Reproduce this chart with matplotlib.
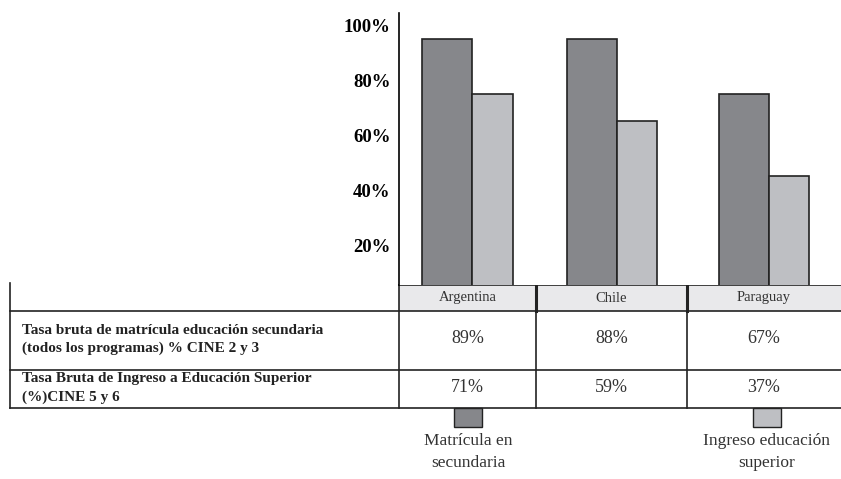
import matplotlib.pyplot as plt
from matplotlib.patches import Rectangle

# data
countries = ['Argentina', 'Chile', 'Paraguay']
bar_secundaria = [95, 95, 75]   # bar heights as drawn on the axis
bar_superior = [75, 65, 45]
tabla_secundaria = ['89%', '88%', '67%']
tabla_superior = ['71%', '59%', '37%']
row_labels = ['Tasa bruta de matrícula educación secundaria\n(todos los programas) % CINE 2 y 3',
              'Tasa Bruta de Ingreso a Educación Superior\n(%)CINE 5 y 6']
legend_labels = ['Matrícula en\nsecundaria', 'Ingreso educación\nsuperior']
yticks = [20, 40, 60, 80, 100]

dark = '#86878b'
light = '#bebfc3'
edge = '#222222'
serif = ['Liberation Serif', 'DejaVu Serif']

W, H = 841, 479
fig = plt.figure(figsize=(W / 100, H / 100), dpi=100)

# layout in pixels
x_left, x_split, x_right = 10, 399, 841
y_axtop, y_head, y_row1, y_row2, y_bot = 13, 285, 311, 370, 408
col_w = [137, 151, 154]
col_edges = [x_split]
for w in col_w:
    col_edges.append(col_edges[-1] + w)
col_centers = [(a + b) / 2 for a, b in zip(col_edges[:-1], col_edges[1:])]

# bar axes
ax = fig.add_axes([x_split / W, (H - y_head) / H, (x_right - x_split) / W, (y_head - y_axtop) / H])
ax.set_xlim(x_split, x_right)
ax.set_ylim(5.5, 104.4)
w_dark, w_light = 50, 40
for c, hd, hl in zip(col_centers, bar_secundaria, bar_superior):
    left = c - (w_dark + w_light) / 2
    ax.bar(left, hd, width=w_dark, align='edge', color=dark, edgecolor=edge, linewidth=1.2)
    ax.bar(left + w_dark, hl, width=w_light, align='edge', color=light, edgecolor=edge, linewidth=1.2)
for s in ['top', 'right', 'bottom']:
    ax.spines[s].set_visible(False)
ax.spines['left'].set_linewidth(1.2)
ax.set_xticks([])
ax.set_yticks(yticks)
ax.set_yticklabels([f'{t}%' for t in yticks], family=serif, fontweight='bold', fontsize=13.5)
ax.tick_params(axis='y', length=0, pad=6)

# table axes in pixel coords
tab = fig.add_axes([0, 0, 1, 1], zorder=-1)
tab.set_xlim(0, W)
tab.set_ylim(H, 0)
tab.axis('off')

tab.add_patch(Rectangle((x_split, y_head), x_right - x_split, y_row1 - y_head, color='#e9e9eb', lw=0))
lw = 1.2
tab.plot([x_split, x_right], [y_head, y_head], color=edge, lw=lw)
for yy in [y_row1, y_row2, y_bot]:
    tab.plot([x_left, x_right], [yy, yy], color=edge, lw=lw)
tab.plot([x_left, x_left], [y_head - 2, y_bot], color=edge, lw=lw)
tab.plot([x_split, x_split], [y_head, y_bot], color=edge, lw=lw)
for xe in col_edges[1:-1]:
    tab.plot([xe, xe], [y_head, y_row1], color=edge, lw=2.2)
    tab.plot([xe, xe], [y_row1, y_bot], color=edge, lw=lw)

for c, name in zip(col_centers, countries):
    tab.text(c, (y_head + y_row1) / 2, name, family=serif, fontsize=10.5,
             ha='center', va='center', color='#333333')
for c, v1, v2 in zip(col_centers, tabla_secundaria, tabla_superior):
    tab.text(c, (y_row1 + y_row2) / 2 - 2, v1, family=serif, fontsize=13,
             ha='center', va='center', color='#333333')
    tab.text(c, (y_row2 + y_bot) / 2 - 2, v2, family=serif, fontsize=13,
             ha='center', va='center', color='#333333')
for (ya, yb), lab in zip([(y_row1, y_row2), (y_row2, y_bot)], row_labels):
    tab.text(22, (ya + yb) / 2 - 1, lab, family=serif, fontsize=11, fontweight='bold',
             ha='left', va='center', linespacing=1.45, color='#222222')

# legend under table
for xc, col, lab in zip([468, 767], [dark, light], legend_labels):
    tab.add_patch(Rectangle((xc - 14, y_bot), 28, 19, facecolor=col, edgecolor=edge, lw=1))
    tab.text(xc, y_bot + 25, lab, family=serif, fontsize=12.5, ha='center', va='top',
             linespacing=1.5, color='#333333')

fig.savefig('out.png', dpi=100)
